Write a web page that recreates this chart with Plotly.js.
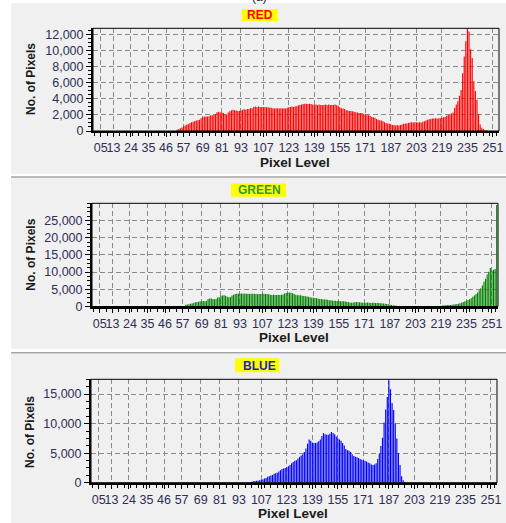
<!DOCTYPE html>
<html><head><meta charset="utf-8">
<script src="https://cdn.plot.ly/plotly-3.0.1.min.js"></script>
<style>html,body{margin:0;padding:0;background:#fff;}#chart{width:506px;height:523px;}</style>
</head><body><div id="chart"></div>
<script>
// ---------- DATA ----------
const redFirstLevel = 53;
const redCounts = [
 150,250,350,450,600,700,800,850,1000,1100,
 1150,1250,1300,1350,1400,1600,1700,1800,1800,1800,
 1850,1950,1950,2000,2100,2350,2400,2300,2300,2250,
 2100,2050,2300,2450,2600,2650,2600,2550,2500,2500,
 2550,2650,2700,2650,2750,2750,2850,2850,3000,3050,
 3000,3050,3000,3000,3000,3000,2950,2950,2900,2900,
 2850,2800,2850,2850,2800,2850,2800,2850,2800,2900,
 2950,3000,3050,3000,3100,3100,3200,3250,3300,3350,
 3400,3400,3350,3400,3350,3300,3250,3300,3250,3300,
 3250,3250,3250,3300,3250,3300,3250,3250,3250,3300,
 3200,3150,2950,2850,2800,2750,2600,2550,2500,2500,
 2450,2400,2350,2300,2250,2250,2200,2150,2100,2000,
 1950,1900,1750,1700,1650,1500,1400,1350,1300,1200,
 1100,1000,950,900,800,750,750,700,750,700,
 750,800,900,950,950,1000,1050,1100,1050,1100,
 1100,1050,1100,1050,1150,1200,1300,1400,1450,1500,
 1550,1550,1600,1550,1600,1600,1650,1700,1750,1900,
 2000,2050,2200,2300,2900,3300,3700,4400,5100,7200,
 9300,11200,12750,12400,10200,9100,6200,5000,3900,2100,
 800,400,250,100,50
];
const greenFirstLevel = 58;
const greenCounts = [
 100,500,600,650,800,900,1000,1200,1300,1400,
 1500,1550,1600,1550,1700,2200,2300,2300,2150,2100,
 2150,2600,2700,3100,3200,3300,3150,2800,2700,2750,
 3200,3400,3600,3700,3700,3700,3750,3700,3750,3700,
 3700,3650,3700,3700,3700,3650,3600,3600,3650,3700,
 3700,3650,3600,3550,3400,3350,3400,3350,3350,3400,
 3350,3400,3500,3800,3900,4000,4050,4000,3850,3600,
 3400,3300,3300,3250,3100,3050,3000,2900,2800,2700,
 2650,2550,2500,2400,2300,2200,2200,2100,2050,2000,
 1950,1850,1800,1750,1700,1650,1600,1600,1550,1500,
 1500,1450,1350,1250,1150,1100,1150,1250,1300,1250,
 1200,1150,1100,1100,1100,1150,1100,1050,1100,1100,
 1050,1000,1000,950,950,900,800,700,650,550,
 450,350,300,200,120,60,30,0,0,0,
 0,0,0,0,0,0,0,0,0,0,
 0,0,0,0,0,0,0,0,0,0,
 100,200,300,350,350,400,450,450,500,550,
 650,700,800,950,1100,1300,1550,1700,1900,2100,
 2400,2800,3200,3600,4100,4700,5300,6100,7200,8100,
 9300,10100,11200,10500,10700,10900,29500
];
const blueFirstLevel = 101;
const blueCounts = [
 150,250,300,350,350,400,500,600,700,800,
 1000,1100,1200,1300,1500,1600,1700,1900,2100,2300,
 2400,2500,2600,2800,3000,3300,3500,3700,3800,4100,
 4400,4600,4800,5200,5800,6600,7300,7100,6800,6700,
 6700,6800,7000,7300,7900,8400,8200,8100,8100,8300,
 8600,8400,8200,7800,7500,7300,7100,6700,6300,5700,
 5500,5400,5200,4800,4500,4400,4300,4200,4000,3900,
 3800,3700,3600,3400,3300,3100,3000,3100,3300,4000,
 4900,6200,7600,10200,12400,14500,17300,15800,13500,12300,
 10000,7500,5000,3000,1100,400,100
];
const xTickLevels = [5,13,24,35,46,57,69,81,93,107,123,139,155,171,187,203,219,235,251];
const xTickLabels = ["05","13","24","35","46","57","69","81","93","107","123","139","155","171","187","203","219","235","251"];
const redYTicks = [0,2000,4000,6000,8000,10000,12000];
const greenYTicks = [0,5000,10000,15000,20000,25000];
const blueYTicks = [0,5000,10000,15000];
const panelTitles = ["RED","GREEN","BLUE"];
const xAxisTitle = "Pixel Level";
const yAxisTitle = "No. of Pixels";

// ---------- LAYOUT ----------
const W = 506, H = 523;
const fx = x => x / W;
const fy = y => 1 - y / H;
const levelsFrom = (first, n) => Array.from({length: n}, (_, i) => first + i);

const panels = [
  {counts: redCounts, first: redFirstLevel, yticks: redYTicks, color: '#ff0000',
   left: 93, right: 499, top: 28.3, bottom: 131, yMax: 12800, yMinor: 500,
   box: [241.7, 9, 277.7, 21], titleColor: '#ff0000', tc: [259.7, 15.2],
   yt: [31, 79], xt: [295.3, 162], bg: [11, 3, 506, 174], sep: null},
  {counts: greenCounts, first: greenFirstLevel, yticks: greenYTicks, color: '#008000',
   left: 92, right: 498, top: 203.3, bottom: 306.5, yMax: 30000, yMinor: 1250,
   box: [231, 183.3, 286, 196.7], titleColor: '#2f9a3f', tc: [259.5, 190.2],
   yt: [30.7, 255], xt: [294.3, 337.5], bg: [11, 178, 506, 349], sep: 177},
  {counts: blueCounts, first: blueFirstLevel, yticks: blueYTicks, color: '#0000ff',
   left: 91, right: 497, top: 379.3, bottom: 482.7, yMax: 17500, yMinor: 1250,
   box: [235, 358.3, 279.3, 372.3], titleColor: '#1c1cd0', tc: [259.2, 365.5],
   yt: [29.3, 431.7], xt: [293, 513], bg: [11, 354, 506, 523], sep: 352.8}
];

const tickFont = {family: 'Liberation Sans, Arial, sans-serif', size: 12.5, color: '#2e2e58'};
const traces = [];
const layout = {
  width: W, height: H, margin: {l: 0, r: 0, t: 0, b: 0},
  paper_bgcolor: '#ffffff', plot_bgcolor: '#f0f0f0',
  showlegend: false, bargap: 0.25,
  shapes: [], annotations: []
};

// "(a)" caption, cut off at the top as in the reference
layout.annotations.push({text: '(a)', xref: 'paper', yref: 'paper', x: fx(259), y: fy(-3.5),
  xanchor: 'center', yanchor: 'middle', showarrow: false,
  font: {family: 'Liberation Sans, Arial, sans-serif', size: 12, color: '#222'}});

panels.forEach((p, i) => {
  const n = i === 0 ? '' : String(i + 1);
  const xa = 'xaxis' + n, ya = 'yaxis' + n;
  traces.push({
    type: 'bar', x: levelsFrom(p.first, p.counts.length), y: p.counts,
    xaxis: 'x' + n, yaxis: 'y' + n, width: 0.72,
    marker: {color: p.color, line: {width: 0}}, hoverinfo: 'x+y'
  });
  layout[xa] = {
    domain: [fx(p.left), fx(p.right)], anchor: 'y' + n, range: [0.2, 254.8],
    tickmode: 'array', tickvals: xTickLevels, ticktext: xTickLabels, tickangle: 0,
    ticks: 'outside', ticklen: 4, tickcolor: '#000', tickfont: tickFont,
    showgrid: true, gridcolor: '#8a8a8a', griddash: '5px,3px', gridwidth: 1,
    zeroline: false, showline: true, linecolor: '#000', linewidth: 2,
    minor: {ticks: 'outside', ticklen: 3, tickcolor: '#000', tickmode: 'linear', tick0: 1, dtick: 4, showgrid: false},
    fixedrange: true
  };
  layout[ya] = {
    domain: [fy(p.bottom), fy(p.top)], anchor: 'x' + n, range: [0, p.yMax],
    tickmode: 'array', tickvals: p.yticks, tickformat: ',d',
    ticks: 'outside', ticklen: 5, tickcolor: '#000', tickfont: tickFont,
    showgrid: true, gridcolor: '#8a8a8a', griddash: '5px,3px', gridwidth: 1,
    zeroline: false, showline: true, linecolor: '#000', linewidth: 2,
    minor: {ticks: 'outside', ticklen: 3, tickcolor: '#000', tickmode: 'linear', tick0: 0, dtick: p.yMinor, showgrid: false},
    fixedrange: true
  };
  layout.shapes.push({type: 'rect', xref: 'paper', yref: 'paper', layer: 'below',
    x0: fx(p.bg[0]), x1: fx(p.bg[2]), y0: fy(p.bg[3]), y1: fy(p.bg[1]),
    fillcolor: '#f0f0f0', line: {width: 0}});
  if (p.sep !== null) {
    layout.shapes.push({type: 'line', xref: 'paper', yref: 'paper', layer: 'below',
      x0: fx(p.bg[0]), x1: fx(p.bg[2]), y0: fy(p.sep), y1: fy(p.sep),
      line: {color: '#a3a3a3', width: 1.5}});
  }
  layout.shapes.push({type: 'rect', xref: 'x' + n + ' domain', yref: 'y' + n + ' domain', layer: 'above',
    x0: 0, x1: 1, y0: 0, y1: 1, line: {color: '#000', width: 1}});
  layout.shapes.push({type: 'rect', xref: 'paper', yref: 'paper', layer: 'below',
    x0: fx(p.box[0]), x1: fx(p.box[2]), y0: fy(p.box[3]), y1: fy(p.box[1]),
    fillcolor: '#ffff00', line: {width: 0}});
  layout.annotations.push({text: panelTitles[i], xref: 'paper', yref: 'paper',
    x: fx(p.tc[0]), y: fy(p.tc[1]), xanchor: 'center', yanchor: 'middle', showarrow: false,
    font: {family: 'Liberation Sans, Arial, sans-serif', size: 12, weight: 'bold', color: p.titleColor}});
  layout.annotations.push({text: yAxisTitle, xref: 'paper', yref: 'paper', textangle: -90,
    x: fx(p.yt[0]), y: fy(p.yt[1]), xanchor: 'center', yanchor: 'middle', showarrow: false,
    font: {family: 'Liberation Sans, Arial, sans-serif', size: 12, weight: 'bold', color: '#1a1a1a'}});
  layout.annotations.push({text: xAxisTitle, xref: 'paper', yref: 'paper',
    x: fx(p.xt[0]), y: fy(p.xt[1]), xanchor: 'center', yanchor: 'middle', showarrow: false,
    font: {family: 'Liberation Sans, Arial, sans-serif', size: 13.5, weight: 'bold', color: '#1a1a1a'}});
});

Plotly.newPlot('chart', traces, layout, {staticPlot: true, displayModeBar: false});
</script></body></html>
